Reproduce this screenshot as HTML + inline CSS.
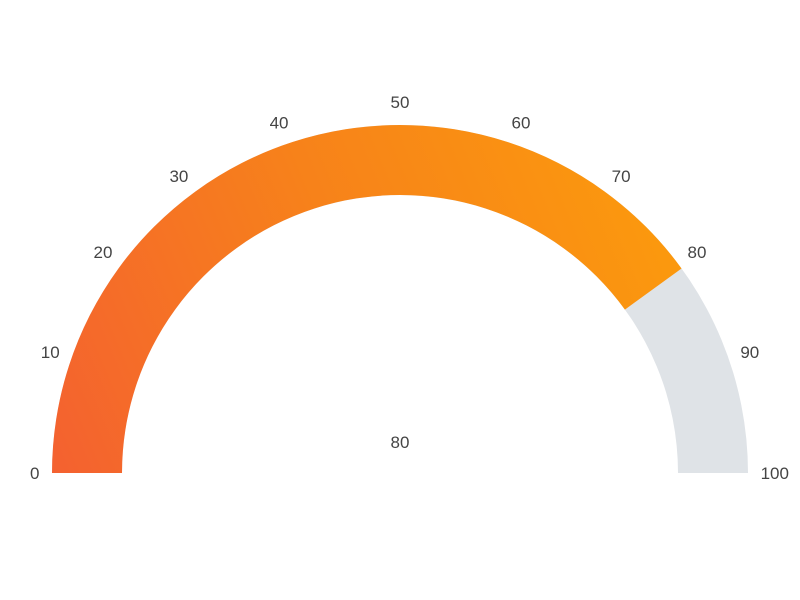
<!DOCTYPE html>
<html>
<head>
<meta charset="utf-8">
<style>
  html,body{margin:0;padding:0;background:#fff;}
  svg{display:block;font-family:"Liberation Sans",sans-serif;}
</style>
</head>
<body>
<svg id="chart" width="800" height="600" viewBox="0 0 800 600">
  <defs>
    <linearGradient id="grad" gradientUnits="userSpaceOnUse" x1="52" y1="473" x2="700" y2="200">
      <stop offset="0" stop-color="#f46130"/>
      <stop offset="0.5" stop-color="#f7821a"/>
      <stop offset="1" stop-color="#fc9c0c"/>
    </linearGradient>
  </defs>
  <g id="gauge"></g>
  <g id="ticks"></g>
  <text id="value" x="400" y="448" text-anchor="middle" font-size="17" fill="#444"></text>
</svg>
<script>
const gaugeValue = [80];
const gaugeRange = [0, 100];
const tickValues = [0, 10, 20, 30, 40, 50, 60, 70, 80, 90, 100];

const cx = 400, cy = 473, rOuter = 348, rInner = 278, rLabel = 371;
const NS = "http://www.w3.org/2000/svg";
function angle(v){ return Math.PI * (1 - (v - gaugeRange[0]) / (gaugeRange[1] - gaugeRange[0])); }
function pt(r, a){ return [cx + r*Math.cos(a), cy - r*Math.sin(a)]; }
function arcPath(v0, v1){
  const a0 = angle(v0), a1 = angle(v1);
  const p0 = pt(rOuter, a0), p1 = pt(rOuter, a1), p2 = pt(rInner, a1), p3 = pt(rInner, a0);
  const large = Math.abs(a0 - a1) > Math.PI ? 1 : 0;
  return `M${p0[0]},${p0[1]} A${rOuter},${rOuter} 0 ${large} 1 ${p1[0]},${p1[1]} L${p2[0]},${p2[1]} A${rInner},${rInner} 0 ${large} 0 ${p3[0]},${p3[1]} Z`;
}
const g = document.getElementById('gauge');
const bg = document.createElementNS(NS, 'path');
bg.setAttribute('d', arcPath(gaugeRange[0], gaugeRange[1]));
bg.setAttribute('fill', '#dfe3e7');


g.appendChild(bg);
const fg = document.createElementNS(NS, 'path');
fg.setAttribute('d', arcPath(gaugeRange[0], gaugeValue[0]));
fg.setAttribute('fill', 'url(#grad)');


g.appendChild(fg);

const t = document.getElementById('ticks');
const deg = Math.PI / 180;
tickValues.forEach(v => {
  let a = angle(v);
  const ref = a > Math.PI/2 ? 135*deg : 45*deg;
  a += -1.1*deg * Math.sin(4*(a - ref));
  const w = String(v).length * 9.5;
  const r = rLabel + Math.abs(Math.cos(a)) * (w/2 - 10.5);
  const p = pt(r, a);
  const tx = document.createElementNS(NS, 'text');
  tx.setAttribute('x', p[0]);
  tx.setAttribute('y', p[1] + 6);
  tx.setAttribute('text-anchor', 'middle');
  tx.setAttribute('font-size', '17');
  tx.setAttribute('fill', '#444');
  tx.textContent = v;
  
  
  t.appendChild(tx);
});
document.getElementById('value').textContent = gaugeValue[0];
</script>
</body>
</html>
